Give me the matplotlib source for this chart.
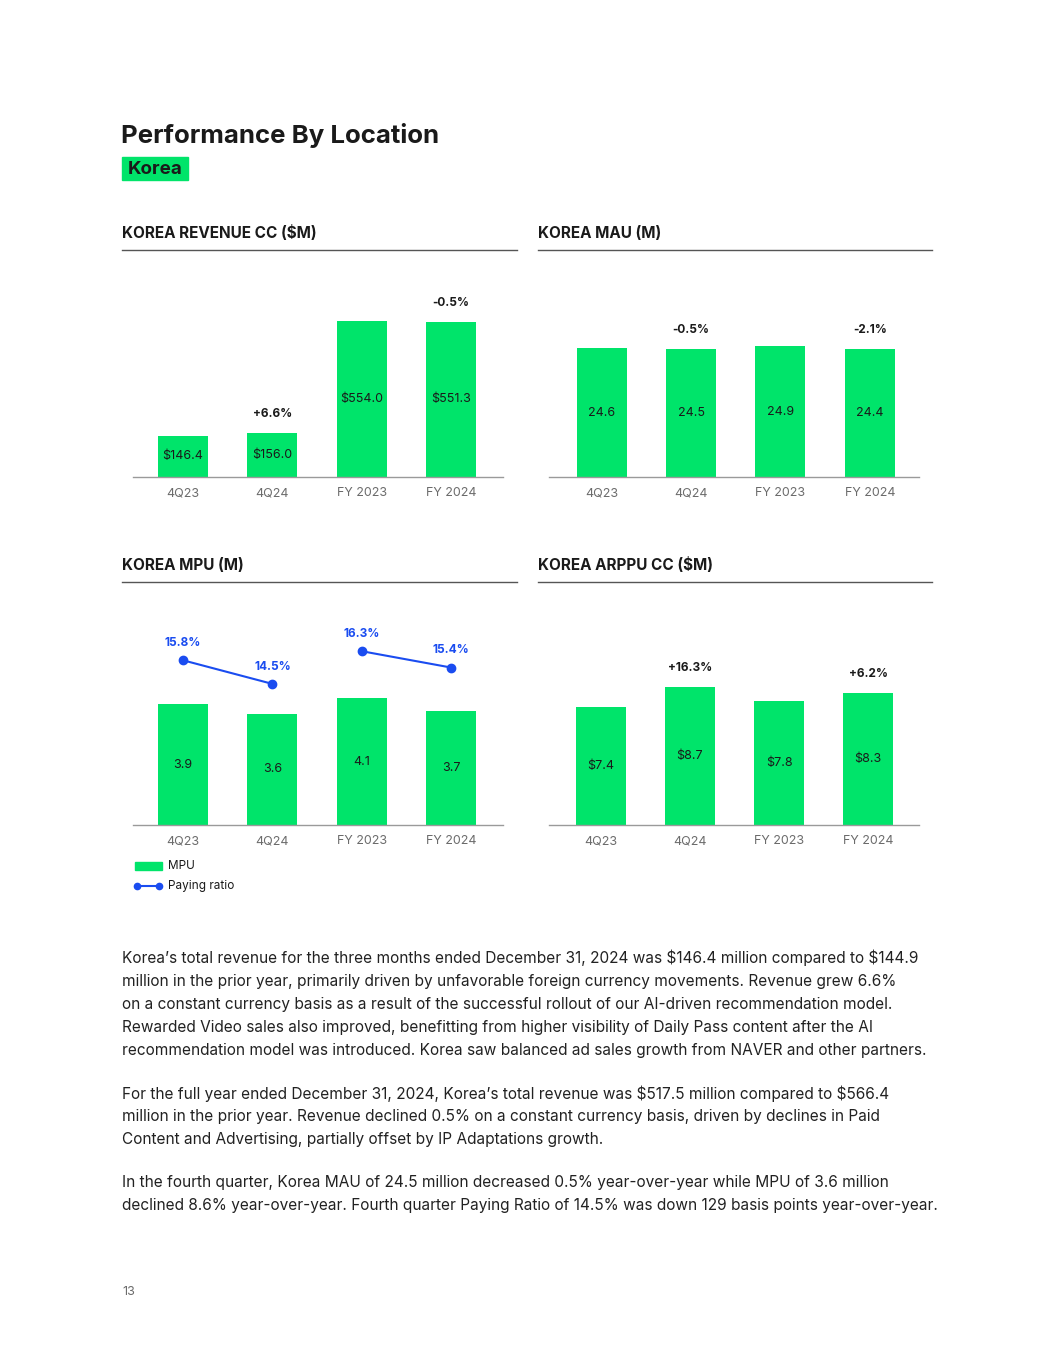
import matplotlib
matplotlib.use('Agg')
import matplotlib.pyplot as plt
from matplotlib.patches import Rectangle
from matplotlib.lines import Line2D

plt.rcParams['font.family'] = ['Inter', 'DejaVu Sans']
plt.rcParams['text.parse_math'] = False

# === data ===
periods = ['4Q23', '4Q24', 'FY 2023', 'FY 2024']

revenue = [146.4, 156.0, 554.0, 551.3]
revenue_labels = ['$146.4', '$156.0', '$554.0', '$551.3']
revenue_growth = ['', '+6.6%', '', '-0.5%']

mau = [24.6, 24.5, 24.9, 24.4]
mau_labels = ['24.6', '24.5', '24.9', '24.4']
mau_growth = ['', '-0.5%', '', '-2.1%']

mpu = [3.9, 3.6, 4.1, 3.7]
mpu_labels = ['3.9', '3.6', '4.1', '3.7']
paying_ratio = [15.8, 14.5, 16.3, 15.4]
paying_labels = ['15.8%', '14.5%', '16.3%', '15.4%']

arppu = [7.4, 8.7, 7.8, 8.3]
arppu_labels = ['$7.4', '$8.7', '$7.8', '$8.3']
arppu_growth = ['', '+16.3%', '', '+6.2%']

paragraphs = [
    ["Korea\u2019s total revenue for the three months ended December 31, 2024 was $146.4 million compared to $144.9",
     "million in the prior year, primarily driven by unfavorable foreign currency movements. Revenue grew 6.6%",
     "on a constant currency basis as a result of the successful rollout of our AI-driven recommendation model.",
     "Rewarded Video sales also improved, benefitting from higher visibility of Daily Pass content after the AI",
     "recommendation model was introduced. Korea saw balanced ad sales growth from NAVER and other partners."],
    ["For the full year ended December 31, 2024, Korea\u2019s total revenue was $517.5 million compared to $566.4",
     "million in the prior year. Revenue declined 0.5% on a constant currency basis, driven by declines in Paid",
     "Content and Advertising, partially offset by IP Adaptations growth."],
    ["In the fourth quarter, Korea MAU of 24.5 million decreased 0.5% year-over-year while MPU of 3.6 million",
     "declined 8.6% year-over-year. Fourth quarter Paying Ratio of 14.5% was down 129 basis points year-over-year."],
]

GREEN = '#00e46a'
BLUE = '#1a4cf0'
DARK = '#1a1a1a'
GREY = '#6b6b6b'

W, H = 1055, 1365
fig = plt.figure(figsize=(W / 100, H / 100), dpi=100)


def fx(x):
    return x / W


def fy(y):
    return 1 - y / H


def add_ax(x0, x1, y_top, y_bot):
    return fig.add_axes([fx(x0), fy(y_bot), (x1 - x0) / W, (y_bot - y_top) / H])


def style_ax(ax, xlim):
    ax.set_xlim(*xlim)
    for s in ['top', 'left', 'right']:
        ax.spines[s].set_visible(False)
    ax.spines['bottom'].set_color('#9a9a9a')
    ax.spines['bottom'].set_linewidth(1)
    ax.set_yticks([])
    ax.set_xticks(range(len(periods)))
    ax.set_xticklabels(periods, fontsize=9, color=GREY)
    ax.tick_params(axis='x', length=0, pad=7.5)
    ax.patch.set_alpha(0)


def bars(ax, vals, labels, growth, px_per_unit, height_px):
    ax.set_ylim(0, height_px / px_per_unit)
    ax.bar(range(len(vals)), vals, width=0.56, color=GREEN)
    for i, v in enumerate(vals):
        ax.text(i, v / 2, labels[i], ha='center', va='center', fontsize=9, color=DARK)
        if growth[i]:
            ax.annotate(growth[i], (i, v), xytext=(0, 13.5), textcoords='offset points',
                        ha='center', va='center', fontsize=8.5, fontweight='bold', color=DARK)


def header(text, x0, x1, y_text, y_line):
    fig.text(fx(x0), fy(y_text), text, fontsize=11, fontweight='bold', color=DARK, va='center')
    fig.add_artist(Line2D([fx(x0), fx(x1)], [fy(y_line), fy(y_line)], color='#555555', lw=1))


# === page title ===
fig.text(fx(121), fy(135), 'Performance By Location', fontsize=18.6, fontweight='bold', color=DARK, va='center')
fig.add_artist(Rectangle((fx(122), fy(180)), 66 / W, 23 / H, color=GREEN, transform=fig.transFigure))
fig.text(fx(128), fy(169), 'Korea', fontsize=13.5, fontweight='bold', color=DARK, va='center')

# === Korea revenue ===
header('KOREA REVENUE CC ($M)', 122, 517, 233, 250)
ax = add_ax(133, 503, 270, 477)
style_ax(ax, (-0.56, 3.58))
bars(ax, revenue, revenue_labels, revenue_growth, 156 / 554.0, 477 - 270)

# === Korea MAU ===
header('KOREA MAU (M)', 538, 932, 233, 250)
ax = add_ax(549, 919, 270, 477)
style_ax(ax, (-0.59, 3.55))
bars(ax, mau, mau_labels, mau_growth, 129 / 24.6, 477 - 270)

# === Korea MPU ===
header('KOREA MPU (M)', 122, 517, 565, 582)
ax = add_ax(133, 503, 600, 825)
style_ax(ax, (-0.56, 3.58))
ax.set_ylim(0, 225 / 30.9)
ax.bar(range(len(mpu)), mpu, width=0.56, color=GREEN)
for i, v in enumerate(mpu):
    ax.text(i, v / 2, mpu_labels[i], ha='center', va='center', fontsize=9, color=DARK)
ax2 = ax.twinx()
ax2.set_ylim(6.73, 19.12)
ax2.axis('off')
for seg in [(0, 1), (2, 3)]:
    ax2.plot(list(seg), [paying_ratio[j] for j in seg], color=BLUE, lw=1.5,
             marker='o', markersize=6)
for i, p in enumerate(paying_ratio):
    ax2.annotate(paying_labels[i], (i, p), xytext=(0, 12.5), textcoords='offset points',
                 ha='center', va='center', fontsize=8.5, fontweight='bold', color=BLUE)

# legend
fig.add_artist(Rectangle((fx(135), fy(870)), 27 / W, 8 / H, color=GREEN, transform=fig.transFigure))
fig.text(fx(168), fy(866), 'MPU', fontsize=8.5, color=DARK, va='center')
fig.add_artist(Line2D([fx(137), fx(159)], [fy(886), fy(886)], color=BLUE, lw=1.5,
                      marker='o', markersize=4.5))
fig.text(fx(168), fy(886), 'Paying ratio', fontsize=8.5, color=DARK, va='center')

# === Korea ARPPU ===
header('KOREA ARPPU CC ($M)', 538, 932, 565, 582)
ax = add_ax(549, 919, 600, 825)
style_ax(ax, (-0.58, 3.57))
bars(ax, arppu, arppu_labels, arppu_growth, 15.9, 825 - 600)

# === body text ===
y = 958
for para in paragraphs:
    for line in para:
        fig.text(fx(122), fy(y), line, fontsize=11.1, color='#222222', va='center')
        y += 23.2
    y += 19.5

fig.text(fx(122), fy(1292), '13', fontsize=9, color=GREY, va='center')

fig.savefig('out.png', dpi=100)
